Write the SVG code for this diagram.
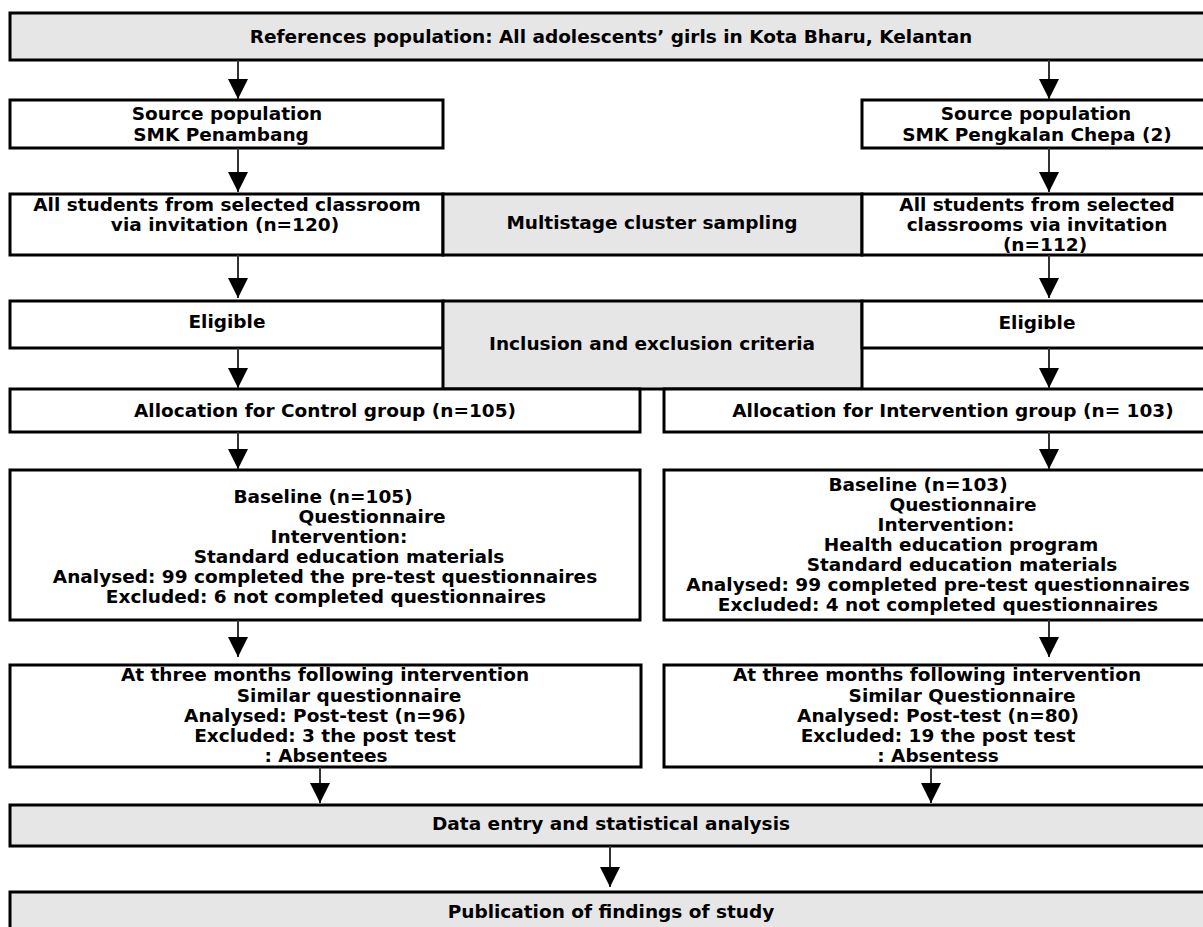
<svg xmlns="http://www.w3.org/2000/svg" width="1203" height="927" viewBox="0 0 1203 927">
<style>
.box{fill:#fff;stroke:#000;stroke-width:3}
.gray{fill:#e6e6e6;stroke:#000;stroke-width:3}
text{font-family:"DejaVu Sans",Verdana,sans-serif;font-weight:bold;font-size:18.5px;text-anchor:middle;fill:#000}
.conn line{stroke:#333;stroke-width:2;marker-end:url(#ah)}
</style>
<defs>
<marker id="ah" markerUnits="userSpaceOnUse" markerWidth="20" markerHeight="20" viewBox="0 0 20 20" refX="20" refY="10" orient="auto"><path d="M0,0 L20,10 L0,20 z" fill="#000"/></marker>
</defs>
<rect width="1203" height="927" fill="#fff"/>
<g id="n1"><rect class="gray" x="10" y="13" width="1196" height="47"/><text x="611" y="43">References population: All adolescents’ girls in Kota Bharu, Kelantan</text></g>
<g id="n2"><rect class="box" x="10" y="100" width="433" height="48"/><text x="227" y="120">Source population</text><text x="221" y="141">SMK Penambang</text></g>
<g id="n3"><rect class="box" x="862" y="100" width="344" height="48"/><text x="1036" y="120">Source population</text><text x="1037" y="141">SMK Pengkalan Chepa (2)</text></g>
<g id="n4"><rect class="box" x="10" y="194" width="433" height="61"/><text x="227" y="211">All students from selected classroom</text><text x="225" y="231">via invitation (n=120)</text></g>
<g id="n5"><rect class="gray" x="443" y="194" width="419" height="61"/><text x="652" y="229">Multistage cluster sampling</text></g>
<g id="n6"><rect class="box" x="862" y="194" width="344" height="61"/><text x="1037" y="211">All students from selected</text><text x="1037" y="231">classrooms via invitation</text><text x="1045" y="251">(n=112)</text></g>
<g id="n7"><rect class="box" x="10" y="301" width="433" height="47"/><text x="227" y="328">Eligible</text></g>
<g id="n8"><rect class="gray" x="443" y="301" width="419" height="88"/><text x="652" y="350">Inclusion and exclusion criteria</text></g>
<g id="n9"><rect class="box" x="862" y="301" width="344" height="47"/><text x="1037" y="329">Eligible</text></g>
<g id="n10"><rect class="box" x="10" y="389" width="630" height="43"/><text x="325" y="417">Allocation for Control group (n=105)</text></g>
<g id="n11"><rect class="box" x="664" y="389" width="542" height="43"/><text x="953" y="417">Allocation for Intervention group (n= 103)</text></g>
<g id="n12"><rect class="box" x="10" y="470" width="630" height="150"/>
<text x="323" y="503">Baseline (n=105)</text>
<text x="372" y="523">Questionnaire</text>
<text x="339" y="543">Intervention:</text>
<text x="349" y="563">Standard education materials</text>
<text x="325" y="583">Analysed: 99 completed the pre-test questionnaires</text>
<text x="326" y="603">Excluded: 6 not completed questionnaires</text></g>
<g id="n13"><rect class="box" x="664" y="470" width="542" height="150"/>
<text x="918" y="491">Baseline (n=103)</text>
<text x="963" y="511">Questionnaire</text>
<text x="946" y="531">Intervention:</text>
<text x="961" y="551">Health education program</text>
<text x="962" y="571">Standard education materials</text>
<text x="938" y="591">Analysed: 99 completed pre-test questionnaires</text>
<text x="938" y="611">Excluded: 4 not completed questionnaires</text></g>
<g id="n14"><rect class="box" x="10" y="665" width="631" height="102"/>
<text x="325" y="681">At three months following intervention</text>
<text x="349" y="702">Similar questionnaire</text>
<text x="325" y="722">Analysed: Post-test (n=96)</text>
<text x="325" y="742">Excluded: 3 the post test</text>
<text x="326" y="762">: Absentees</text></g>
<g id="n15"><rect class="box" x="664" y="665" width="542" height="102"/>
<text x="937" y="681">At three months following intervention</text>
<text x="962" y="702">Similar Questionnaire</text>
<text x="938" y="722">Analysed: Post-test (n=80)</text>
<text x="938" y="742">Excluded: 19 the post test</text>
<text x="938" y="762">: Absentess</text></g>
<g id="n16"><rect class="gray" x="10" y="805" width="1196" height="41"/><text x="611" y="830">Data entry and statistical analysis</text></g>
<g id="n17"><rect class="gray" x="10" y="892" width="1196" height="45"/><text x="611" y="918">Publication of findings of study</text></g>
<g id="connectors" class="conn">
<line x1="238" y1="60" x2="238" y2="99"/>
<line x1="1049" y1="60" x2="1049" y2="99"/>
<line x1="238" y1="148" x2="238" y2="192"/>
<line x1="1049" y1="148" x2="1049" y2="192"/>
<line x1="238" y1="255" x2="238" y2="298"/>
<line x1="1049" y1="255" x2="1049" y2="298"/>
<line x1="238" y1="348" x2="238" y2="388"/>
<line x1="1049" y1="348" x2="1049" y2="388"/>
<line x1="238" y1="432" x2="238" y2="469"/>
<line x1="1049" y1="432" x2="1049" y2="469"/>
<line x1="238" y1="620" x2="238" y2="657"/>
<line x1="1049" y1="620" x2="1049" y2="657"/>
<line x1="320" y1="767" x2="320" y2="803"/>
<line x1="931" y1="767" x2="931" y2="803"/>
<line x1="610" y1="846" x2="610" y2="887"/>
</g>
</svg>
